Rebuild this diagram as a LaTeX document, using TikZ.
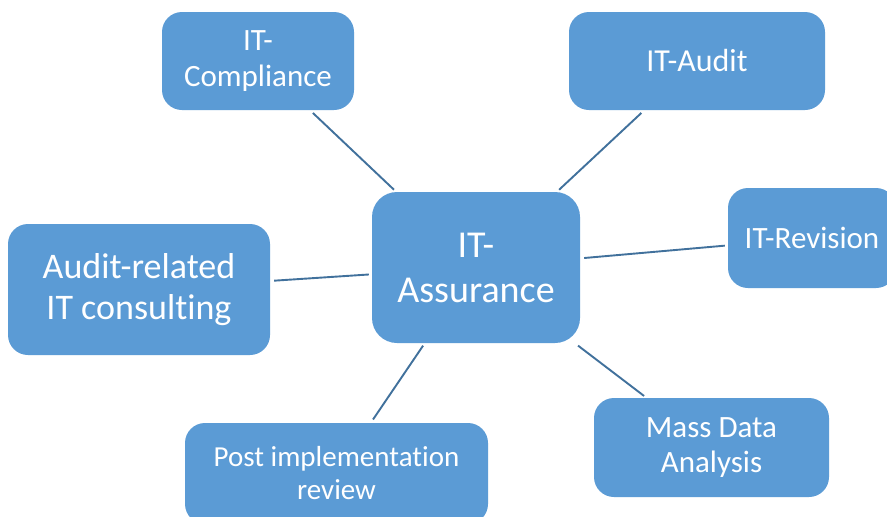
\documentclass[tikz,border=0pt]{standalone}
\usepackage{fontspec}
\setmainfont{Carlito}[Ligatures={NoCommon,NoContextual}]
\definecolor{boxblue}{HTML}{5B9BD5}
\definecolor{linkblue}{HTML}{41719C}
\tikzset{
  topic/.style={rectangle, rounded corners=20pt, fill=boxblue, draw=none,
    text=white, align=center, inner sep=0pt},
  link/.style={draw=linkblue, line width=1.9pt, shorten <=4pt, shorten >=3pt}
}
\begin{document}
\begin{tikzpicture}[x=1pt,y=-1pt]
\clip (0,0) rectangle (887,517);
\fill[white] (0,0) rectangle (887,517);
\node[topic, minimum width=208pt, minimum height=151pt, rounded corners=25pt,
  font=\fontsize{38}{45}\selectfont] (assur) at (476,267.5) {IT-\\Assurance};
\node[topic, minimum width=192pt, minimum height=98pt,
  font=\fontsize{31}{36}\selectfont] (comp) at (258,61) {IT-\\Compliance};
\node[topic, minimum width=256pt, minimum height=98pt,
  font=\fontsize{32}{38}\selectfont] (audit) at (697,61) {IT-Audit};
\node[topic, minimum width=168pt, minimum height=100pt,
  font=\fontsize{31}{36}\selectfont] (rev) at (812,238) {IT-Revision};
\node[topic, minimum width=262pt, minimum height=131pt,
  font=\fontsize{36}{41}\selectfont] (cons) at (139,289.5) {Audit-related\\IT consulting};
\node[topic, minimum width=303pt, minimum height=101pt,
  font=\fontsize{29}{33}\selectfont] (post) at (336.5,473.5) {Post implementation\\review};
\node[topic, minimum width=235pt, minimum height=99pt,
  font=\fontsize{31}{35}\selectfont] (mass) at (711.5,447.5) {Mass Data\\Analysis};
\draw[link] (comp) -- (assur);
\draw[link] (audit) -- (assur);
\draw[link] (assur) -- (rev);
\draw[link] (cons) -- (assur);
\draw[link] (post) -- (assur);
\draw[link] (assur) -- (mass);
\end{tikzpicture}
\end{document}
